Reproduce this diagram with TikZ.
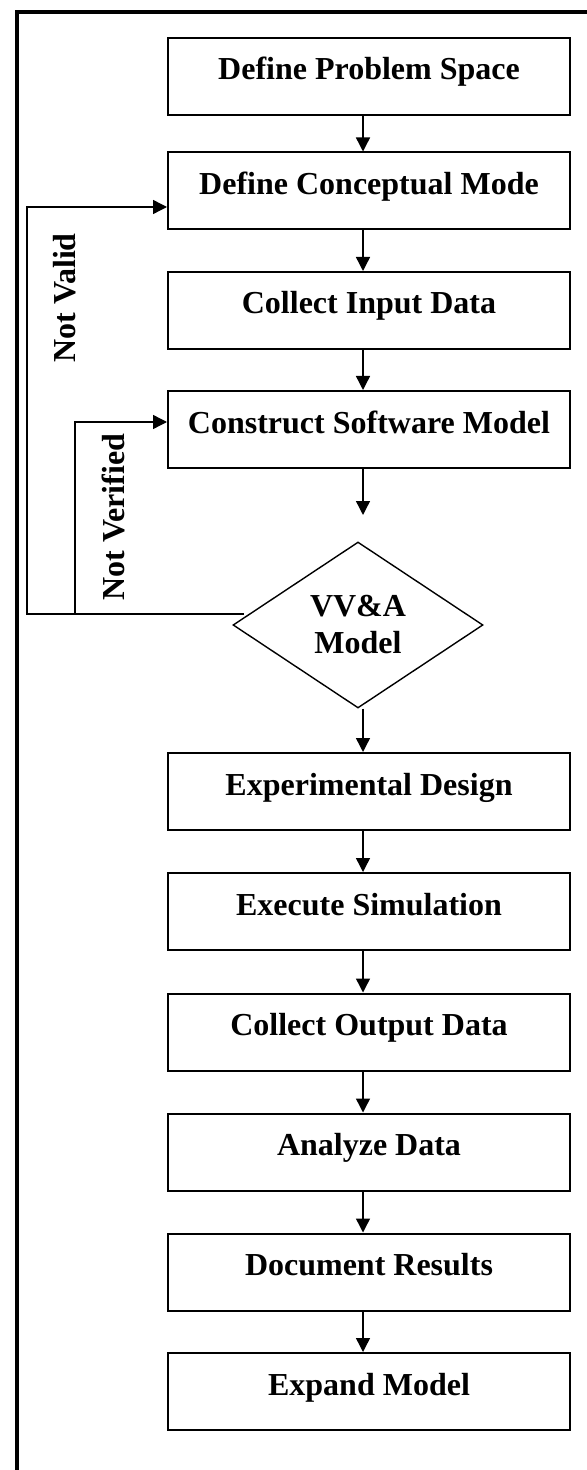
\documentclass[tikz,border=0pt]{standalone}
\usepackage{fontspec}
\setmainfont{Liberation Serif}
\usetikzlibrary{shapes.geometric,arrows.meta}
\begin{document}
\begin{tikzpicture}[x=0.5pt,y=-0.5pt,
  labelfont/.style={font=\bfseries\fontsize{16}{18.5}\selectfont},
  stepbox/.style={labelfont,draw,line width=1pt,rectangle,
    minimum width=201pt,inner xsep=0pt,inner ysep=0pt,
    text height=21pt,text depth=17.5pt},
  decision/.style={labelfont,draw,diamond,line width=0.7pt,
    minimum width=125pt,minimum height=83pt,inner sep=0pt,align=center},
  flow/.style={line width=0.7pt,-{Triangle[length=7pt,width=7pt]}},
  sidelabel/.style={labelfont,rotate=90,inner sep=0pt}]
\useasboundingbox (0,0) rectangle (587,1470);

% outer frame (top and left edges only)
\draw[line width=2pt,line join=miter] (587,12) -- (17,12) -- (17,1470);

% process steps
\node[stepbox] (b1)  at (369,76.5)   {Define Problem Space};
\node[stepbox] (b2)  at (369,191)    {Define Conceptual Mode};
\node[stepbox] (b3)  at (369,310.5)  {Collect Input Data};
\node[stepbox] (b4)  at (369,429.5)  {Construct Software Model};
\node[decision] (vva) at (358,625)   {VV\&A\\Model};
\node[stepbox] (b5)  at (369,791.5)  {Experimental Design};
\node[stepbox] (b6)  at (369,911.5)  {Execute Simulation};
\node[stepbox] (b7)  at (369,1032)   {Collect Output Data};
\node[stepbox] (b8)  at (369,1152)   {Analyze Data};
\node[stepbox] (b9)  at (369,1272)   {Document Results};
\node[stepbox] (b10) at (369,1391.5) {Expand Model};

% column of the downward connectors
\coordinate (col) at (363,0);
\coordinate (intoVVA) at (363,515);

\draw[flow] (b1.south -| col) -- (b2.north -| col);
\draw[flow] (b2.south -| col) -- (b3.north -| col);
\draw[flow] (b3.south -| col) -- (b4.north -| col);
\draw[flow] (b4.south -| col) -- (intoVVA);
\draw[flow] (vva.south -| col) -- (b5.north -| col);
\draw[flow] (b5.south -| col) -- (b6.north -| col);
\draw[flow] (b6.south -| col) -- (b7.north -| col);
\draw[flow] (b7.south -| col) -- (b8.north -| col);
\draw[flow] (b8.south -| col) -- (b9.north -| col);
\draw[flow] (b9.south -| col) -- (b10.north -| col);

% feedback loops from the VV&A decision
\coordinate (fbStart) at (244,614);
\coordinate (fbJoin) at (75,614);
\draw[flow] (fbStart) -| (27,207) -- (b2.west |- 27,207);
\draw[flow] (fbJoin) |- (b4.west |- 75,422);

\node[sidelabel] (lblValid) at (65,298) {Not Valid};
\node[sidelabel] (lblVerified) at (113,517) {Not Verified};
\end{tikzpicture}
\end{document}
